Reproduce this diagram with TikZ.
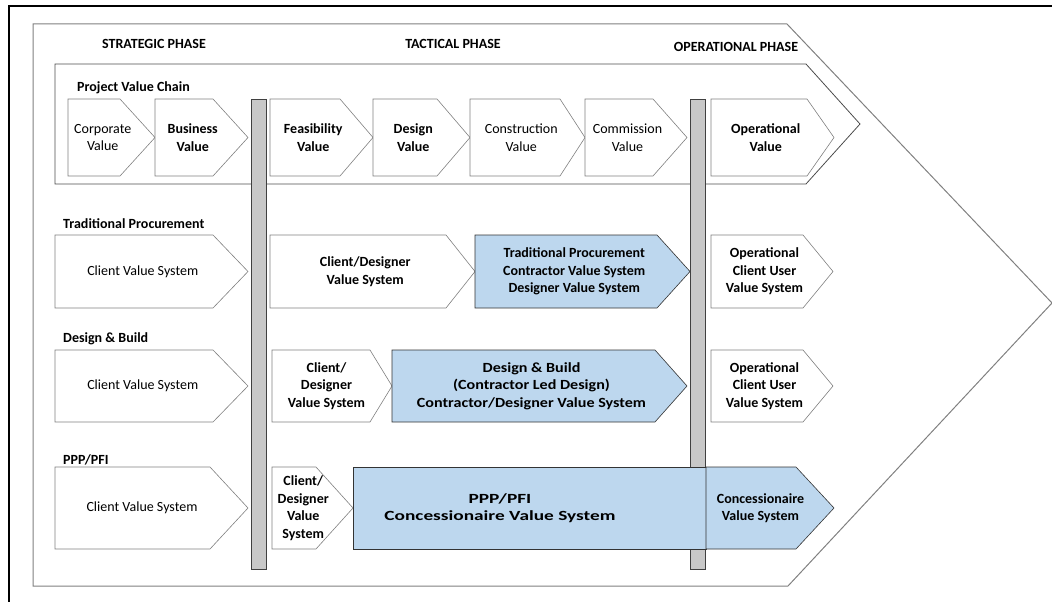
\documentclass[tikz,border=0pt]{standalone}
\usepackage{fontspec}
\setmainfont{Carlito}
\definecolor{vsblue}{HTML}{BDD7EE}
\definecolor{chevline}{HTML}{808080}
\definecolor{barfill}{HTML}{C8C8C8}

% name, x left, x top end, x tip, y top, y bottom, shape style, text style, text
\newcommand{\vchev}[9]{%
  \pgfmathsetmacro\ymid{(#5+#6)/2}
  \pgfmathsetmacro\xmid{(#2+#3)/2+(#4-#3)/4}
  \draw[#7] (#2,#5) -- (#3,#5) -- (#4,\ymid) -- (#3,#6) -- (#2,#6) -- cycle;
  \node[#8] (#1) at (\xmid,\ymid) {#9};
}

\begin{document}
\begin{tikzpicture}[x=1pt,y=-1pt,
  txt/.style={align=center,inner sep=0pt,font=\fontsize{14}{17.5}\selectfont\bfseries},
  txtreg/.style={txt,font=\fontsize{14}{17.5}\selectfont},
  txtwide/.style={txt,font=\fontsize{14}{17.5}\selectfont\bfseries\addfontfeatures{FakeStretch=#1}},
  heading/.style={anchor=west,inner sep=0pt,font=\fontsize{14}{17}\selectfont\bfseries},
  phase/.style={inner sep=0pt,font=\fontsize{14}{17}\selectfont\bfseries},
  whitechev/.style={draw=chevline,fill=white,line width=0.6pt},
  bluechev/.style={draw=black!80,fill=vsblue,line width=0.6pt},
  phasebar/.style={draw=black!75,fill=barfill,line width=0.8pt}]
\useasboundingbox (0,0) rectangle (1052,602);

% frame and outer chevron
\draw[line width=1.6pt] (1052,6) -- (9,6) -- (9,602);
\draw[draw=chevline,line width=1pt] (33,24) -- (787,24) -- (1052,303) -- (788,586) -- (33,586) -- cycle;

\node[phase] (strategic) at (154,44) {STRATEGIC PHASE};
\node[phase] (tactical) at (453,44) {TACTICAL PHASE};
\node[phase] (operational) at (736,47) {OPERATIONAL PHASE};

% project value chain
\draw[draw=black!70,line width=0.8pt] (55,64) -- (806,64) -- (860,124) -- (806,184) -- (55,184) -- cycle;
\node[heading] (pvc) at (77,88) {Project Value Chain};

% phase gates
\draw[phasebar] (251,99) rectangle (266,569);
\draw[phasebar] (690,99) rectangle (705,569);

\vchev{corp}{68}{120}{155}{99}{176}{whitechev}{txtreg}{Corporate\\Value}
\vchev{bus}{155}{213}{248}{99}{176}{whitechev}{txt}{Business\\Value}
\vchev{feas}{270}{340}{373}{99}{176}{whitechev}{txt}{Feasibility\\Value}
\vchev{des}{373}{437}{470}{99}{176}{whitechev}{txt}{Design\\Value}
\vchev{cons}{470}{560}{585}{99}{176}{whitechev}{txtreg}{Construction\\Value}
\vchev{comm}{585}{653}{687}{99}{176}{whitechev}{txtreg}{Commission\\Value}
\vchev{oper}{711}{807}{834}{99}{176}{whitechev}{txt}{Operational\\Value}

% traditional procurement
\node[heading] (trad) at (63,224) {Traditional Procurement};
\vchev{tpclient}{55}{213}{248}{235}{308}{whitechev}{txtreg}{Client Value System}
\vchev{tpdesigner}{270}{446}{475}{235}{308}{whitechev}{txt}{Client/Designer\\Value System}
\vchev{tpcontr}{475}{657}{690}{235}{308}{bluechev}{txt}{Traditional Procurement\\Contractor Value System\\Designer Value System}
\vchev{tpuser}{711}{803}{833}{235}{308}{whitechev}{txt}{Operational\\Client User\\Value System}

% design and build
\node[heading] (db) at (63,339) {Design \& Build};
\vchev{dbclient}{55}{213}{248}{350}{422}{whitechev}{txtreg}{Client Value System}
\vchev{dbdesigner}{272}{370}{392}{350}{422}{whitechev}{txt}{Client/\\Designer\\Value System}
\vchev{dbcontr}{392}{655}{687}{350}{422}{bluechev}{txtwide=1.15}{Design \& Build\\(Contractor Led Design)\\Contractor/Designer Value System}
\vchev{dbuser}{711}{803}{833}{350}{422}{whitechev}{txt}{Operational\\Client User\\Value System}

% ppp / pfi
\node[heading] (ppp) at (63,460) {PPP/PFI};
\vchev{pppclient}{55}{210}{248}{467}{549}{whitechev}{txtreg}{Client Value System}
\vchev{pppdesigner}{272}{316}{353}{467}{549}{whitechev}{txt}{Client/\\Designer\\Value\\System}
\draw[bluechev] (353,467) rectangle (706,549);
\node[txtwide=1.38] (pppconc) at (500,508) {PPP/PFI\\Concessionaire Value System};
\vchev{conc}{706}{796}{834}{467}{549}{bluechev}{txt}{Concessionaire\\Value System}
\end{tikzpicture}
\end{document}
